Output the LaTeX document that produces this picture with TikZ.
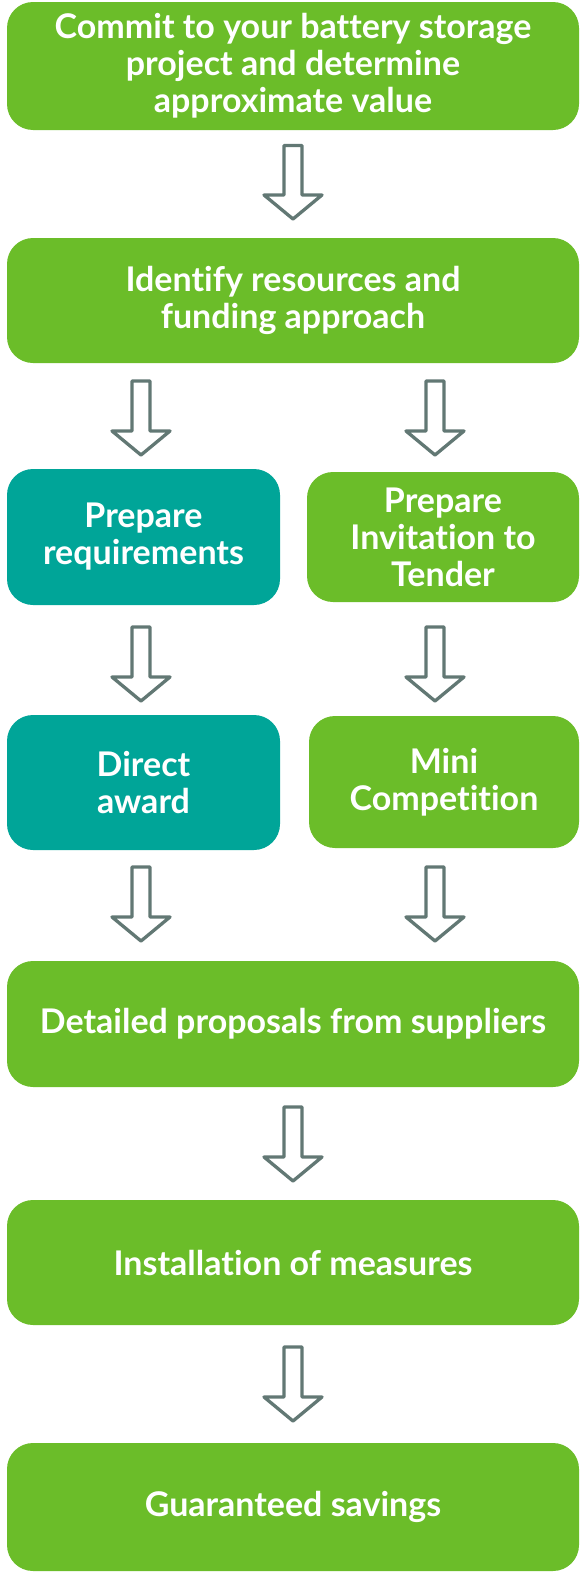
\documentclass[tikz,border=0pt]{standalone}
\usepackage{fontspec}
\setmainfont{Lato}[Ligatures=NoCommon]
\usepackage{tikz}
\usetikzlibrary{calc}
\definecolor{box_green}{RGB}{107,189,41}
\definecolor{box_teal}{RGB}{0,165,152}
\definecolor{arrow_grey}{RGB}{98,120,116}
% hollow block arrow from one named point down to another
\newcommand\flowarrow[2]{%
  \draw[blockarrow] ($(#1)+(-9,0)$) -- ($(#1)+(9,0)$) -- ($(#2)+(9,-24)$)
    -- ($(#2)+(29,-24)$) -- (#2) -- ($(#2)+(-29,-24)$) -- ($(#2)+(-9,-24)$) -- cycle;}

\begin{document}
\begin{tikzpicture}[x=1pt,y=-1pt]
    \tikzstyle{stage}=[rounded corners=26pt, inner sep=0pt, align=center, text=white,
                       font=\bfseries\fontsize{34}{37}\selectfont]
    \tikzstyle{stagegreen}=[style=stage, fill=box_green]
    \tikzstyle{stageteal}=[style=stage, fill=box_teal]
    \tikzstyle{blockarrow}=[draw=arrow_grey, fill=white, line width=3.3pt, line join=round]

    \useasboundingbox (0,0) rectangle (581,1574);

    \node[stagegreen, minimum width=572pt, minimum height=128pt] (commit)   at (293,66)
      {Commit to your battery storage\\project and determine\\approximate value};
    \node[stagegreen, minimum width=572pt, minimum height=125pt] (identify) at (293,300.5)
      {Identify resources and\\funding approach};
    \node[stageteal,  minimum width=273pt, minimum height=136pt] (prepreq)  at (143.5,537)
      {Prepare\\requirements};
    \node[stagegreen, minimum width=272pt, minimum height=130pt] (prepitt)  at (443,537)
      {Prepare\\Invitation to\\Tender};
    \node[stageteal,  minimum width=273pt, minimum height=135pt] (direct)   at (143.5,782.5)
      {Direct\\award};
    \node[stagegreen, minimum width=270pt, minimum height=132pt] (mini)     at (444,782)
      {Mini\\Competition};
    \node[stagegreen, minimum width=572pt, minimum height=126pt] (detailed) at (293,1024)
      {Detailed proposals from suppliers};
    \node[stagegreen, minimum width=572pt, minimum height=125pt] (install)  at (293,1262.5)
      {Installation of measures};
    \node[stagegreen, minimum width=572pt, minimum height=128pt] (savings)  at (293,1507)
      {Guaranteed savings};

    \coordinate (c1s) at (293,145.5);  \coordinate (c1e) at (293,219);
    \coordinate (c2s) at (141,381);    \coordinate (c2e) at (141,455);
    \coordinate (c3s) at (435,381);    \coordinate (c3e) at (435,455);
    \coordinate (c4s) at (141,627);    \coordinate (c4e) at (141,701);
    \coordinate (c5s) at (435,627);    \coordinate (c5e) at (435,701);
    \coordinate (c6s) at (141,867);    \coordinate (c6e) at (141,941);
    \coordinate (c7s) at (435,867);    \coordinate (c7e) at (435,941);
    \coordinate (c8s) at (293,1107);   \coordinate (c8e) at (293,1181);
    \coordinate (c9s) at (293,1347);   \coordinate (c9e) at (293,1421);

    \flowarrow{c1s}{c1e}
    \flowarrow{c2s}{c2e}
    \flowarrow{c3s}{c3e}
    \flowarrow{c4s}{c4e}
    \flowarrow{c5s}{c5e}
    \flowarrow{c6s}{c6e}
    \flowarrow{c7s}{c7e}
    \flowarrow{c8s}{c8e}
    \flowarrow{c9s}{c9e}
\end{tikzpicture}
\end{document}
